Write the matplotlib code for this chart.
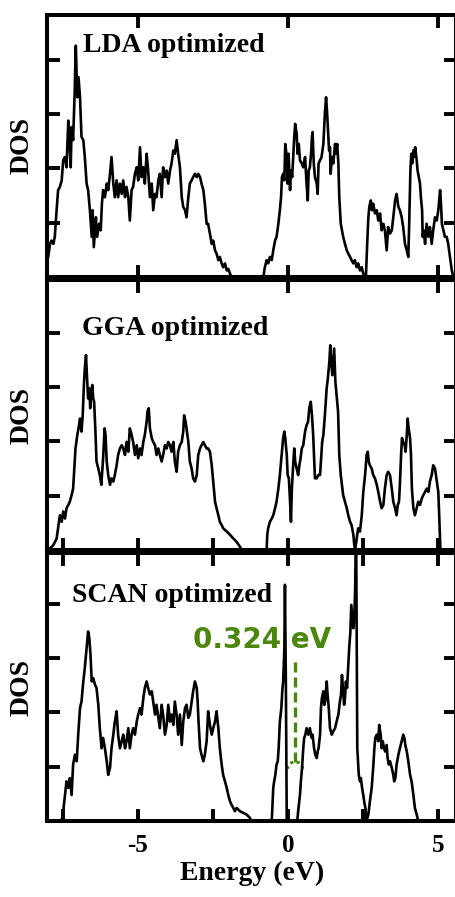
import numpy as np
import matplotlib
matplotlib.use('Agg')
import matplotlib.pyplot as plt
from matplotlib.patches import Arc

# DOS, (energy eV, DOS in tick units)
lda_pts = [
    (-8.03, 0.30), (-7.99, 0.37), (-7.93, 0.61), (-7.88, 0.67), (-7.82, 0.61), (-7.77, 0.74),
    (-7.71, 1.23), (-7.66, 1.60), (-7.60, 1.66), (-7.54, 1.78), (-7.49, 2.15), (-7.43, 2.21),
    (-7.38, 2.02), (-7.32, 2.88), (-7.29, 2.58), (-7.24, 2.02), (-7.21, 2.76), (-7.16, 2.52),
    (-7.11, 3.37), (-7.07, 4.26), (-7.02, 3.31), (-6.98, 3.68), (-6.93, 3.31), (-6.88, 2.58),
    (-6.82, 2.52), (-6.77, 2.21), (-6.71, 1.72), (-6.66, 1.60), (-6.60, 1.23), (-6.54, 0.74),
    (-6.51, 1.23), (-6.47, 0.55), (-6.40, 1.10), (-6.36, 0.74), (-6.29, 0.98), (-6.24, 0.86),
    (-6.20, 1.35), (-6.16, 1.60), (-6.10, 1.47), (-6.04, 1.72), (-5.99, 1.60), (-5.93, 1.90),
    (-5.88, 2.21), (-5.82, 1.72), (-5.77, 1.47), (-5.71, 1.78), (-5.66, 1.47), (-5.60, 1.72),
    (-5.54, 1.53), (-5.49, 1.78), (-5.43, 1.47), (-5.38, 1.66), (-5.32, 1.47), (-5.27, 1.04),
    (-5.21, 1.60), (-5.16, 1.66), (-5.10, 1.90), (-5.04, 2.02), (-4.99, 1.78), (-4.93, 2.39),
    (-4.88, 1.84), (-4.82, 2.02), (-4.77, 1.72), (-4.71, 2.27), (-4.66, 1.96), (-4.60, 1.47),
    (-4.54, 1.72), (-4.49, 1.23), (-4.43, 1.53), (-4.38, 1.47), (-4.32, 1.78), (-4.27, 1.90),
    (-4.21, 1.47), (-4.16, 2.02), (-4.10, 1.84), (-4.04, 1.96), (-3.99, 1.72), (-3.93, 1.96),
    (-3.88, 2.09), (-3.82, 2.33), (-3.77, 2.27), (-3.71, 2.52), (-3.66, 2.27), (-3.60, 2.02),
    (-3.54, 1.47), (-3.49, 1.29), (-3.43, 1.23), (-3.38, 1.10), (-3.32, 1.47), (-3.27, 1.72),
    (-3.21, 1.78), (-3.16, 1.84), (-3.10, 1.90), (-3.04, 1.84), (-2.99, 1.90), (-2.93, 1.84),
    (-2.88, 1.72), (-2.82, 1.60), (-2.77, 1.35), (-2.71, 0.98), (-2.66, 0.98), (-2.60, 0.80),
    (-2.54, 0.61), (-2.49, 0.67), (-2.43, 0.49), (-2.38, 0.43), (-2.32, 0.31), (-2.27, 0.37),
    (-2.21, 0.25), (-2.16, 0.18), (-2.10, 0.25), (-2.04, 0.12), (-1.99, 0.15), (-1.93, 0.06),
    (-1.88, 0.00), (-0.82, 0.00), (-0.77, 0.18), (-0.71, 0.31), (-0.66, 0.25), (-0.60, 0.37),
    (-0.54, 0.31), (-0.49, 0.49), (-0.43, 0.67), (-0.38, 0.74), (-0.32, 0.98), (-0.27, 1.23),
    (-0.23, 1.47), (-0.20, 1.84), (-0.16, 1.90), (-0.12, 1.78), (-0.09, 2.45), (-0.04, 2.21),
    (-0.01, 1.72), (0.02, 2.27), (0.07, 1.60), (0.10, 1.96), (0.14, 1.84), (0.18, 2.27),
    (0.21, 2.58), (0.24, 2.82), (0.29, 2.64), (0.32, 2.27), (0.36, 2.45), (0.40, 2.15),
    (0.46, 2.09), (0.51, 2.02), (0.57, 2.21), (0.62, 1.72), (0.66, 1.41), (0.69, 1.96),
    (0.73, 2.02), (0.77, 2.27), (0.80, 2.58), (0.82, 2.67), (0.86, 2.09), (0.90, 1.84),
    (0.96, 1.72), (0.99, 1.53), (1.02, 2.09), (1.07, 2.15), (1.12, 2.21), (1.18, 2.45),
    (1.23, 3.01), (1.27, 3.31), (1.30, 3.07), (1.33, 2.76), (1.37, 2.33), (1.40, 2.39),
    (1.42, 1.90), (1.47, 2.21), (1.51, 2.09), (1.57, 2.45), (1.60, 2.27), (1.64, 2.45),
    (1.68, 2.09), (1.71, 1.47), (1.76, 0.98), (1.80, 0.86), (1.84, 0.74), (1.90, 0.61),
    (1.96, 0.49), (2.01, 0.43), (2.07, 0.37), (2.12, 0.31), (2.18, 0.25), (2.23, 0.31),
    (2.29, 0.18), (2.34, 0.25), (2.40, 0.12), (2.46, 0.18), (2.51, 0.06), (2.57, 0.00),
    (2.60, 0.03), (2.64, 0.61), (2.68, 1.10), (2.71, 1.29), (2.76, 1.41), (2.80, 1.23),
    (2.84, 1.35), (2.90, 1.17), (2.96, 1.23), (3.01, 1.04), (3.07, 1.17), (3.12, 0.86),
    (3.18, 0.98), (3.23, 0.86), (3.29, 0.49), (3.34, 0.92), (3.40, 0.80), (3.46, 0.86),
    (3.51, 1.10), (3.57, 1.41), (3.62, 1.53), (3.68, 1.29), (3.73, 1.23), (3.79, 1.10),
    (3.84, 0.92), (3.90, 0.61), (3.96, 0.49), (4.01, 0.37), (4.04, 0.98), (4.08, 1.96),
    (4.11, 2.27), (4.14, 2.09), (4.18, 2.33), (4.21, 2.21), (4.24, 2.39), (4.29, 2.15),
    (4.32, 1.96), (4.36, 1.84), (4.40, 1.72), (4.43, 1.47), (4.47, 1.23), (4.49, 0.74),
    (4.52, 0.86), (4.57, 0.61), (4.62, 0.98), (4.68, 0.74), (4.73, 0.92), (4.79, 0.61),
    (4.84, 0.86), (4.90, 1.10), (4.96, 1.04), (5.01, 1.23), (5.07, 1.60), (5.10, 1.35),
    (5.13, 0.98), (5.18, 0.86), (5.23, 0.74), (5.29, 0.74), (5.34, 0.61), (5.40, 0.37),
    (5.46, 0.12), (5.51, 0.00), (5.60, 0.00),
]

gga_pts = [
    (-8.03, 0.00), (-7.99, 0.00), (-7.82, 0.09), (-7.71, 0.21), (-7.66, 0.40), (-7.60, 0.64),
    (-7.54, 0.52), (-7.49, 0.71), (-7.43, 0.58), (-7.38, 0.77), (-7.32, 0.83), (-7.27, 0.89),
    (-7.21, 1.01), (-7.16, 1.13), (-7.12, 1.50), (-7.08, 1.87), (-7.02, 2.12), (-6.98, 2.24),
    (-6.93, 2.42), (-6.88, 2.18), (-6.84, 2.48), (-6.80, 3.04), (-6.77, 3.34), (-6.73, 3.59),
    (-6.70, 3.22), (-6.66, 2.79), (-6.62, 2.98), (-6.59, 2.61), (-6.56, 2.85), (-6.52, 3.04),
    (-6.49, 2.79), (-6.46, 2.73), (-6.42, 2.24), (-6.38, 1.63), (-6.32, 1.50), (-6.27, 1.38),
    (-6.22, 1.20), (-6.19, 1.44), (-6.16, 1.69), (-6.11, 2.24), (-6.08, 2.12), (-6.04, 1.63),
    (-5.99, 1.38), (-5.93, 1.20), (-5.88, 1.32), (-5.82, 1.26), (-5.77, 1.38), (-5.71, 1.56),
    (-5.66, 1.75), (-5.60, 1.87), (-5.54, 1.93), (-5.49, 1.87), (-5.43, 1.75), (-5.38, 1.99),
    (-5.32, 1.81), (-5.27, 2.24), (-5.21, 2.12), (-5.16, 1.99), (-5.10, 1.75), (-5.04, 1.93),
    (-4.99, 1.69), (-4.93, 1.87), (-4.88, 1.75), (-4.82, 1.99), (-4.77, 2.12), (-4.71, 2.36),
    (-4.68, 2.55), (-4.64, 2.61), (-4.60, 2.24), (-4.54, 2.06), (-4.49, 1.99), (-4.43, 1.93),
    (-4.38, 1.75), (-4.32, 1.87), (-4.27, 1.75), (-4.21, 1.63), (-4.16, 1.75), (-4.10, 1.93),
    (-4.04, 1.87), (-3.99, 1.99), (-3.93, 1.93), (-3.88, 1.81), (-3.82, 1.99), (-3.77, 1.63),
    (-3.71, 1.44), (-3.66, 1.81), (-3.60, 1.93), (-3.54, 1.99), (-3.49, 2.18), (-3.46, 2.48),
    (-3.41, 2.36), (-3.38, 2.24), (-3.32, 1.99), (-3.27, 1.63), (-3.21, 1.50), (-3.16, 1.32),
    (-3.10, 1.26), (-3.04, 1.38), (-2.99, 1.75), (-2.93, 1.87), (-2.88, 1.93), (-2.82, 1.99),
    (-2.77, 1.93), (-2.71, 1.87), (-2.66, 1.87), (-2.60, 1.81), (-2.54, 1.56), (-2.49, 1.26),
    (-2.43, 0.89), (-2.38, 0.77), (-2.32, 0.64), (-2.27, 0.52), (-2.21, 0.46), (-2.16, 0.40),
    (-2.04, 0.34), (-1.93, 0.28), (-1.82, 0.21), (-1.71, 0.15), (-1.60, 0.06), (-1.54, 0.00),
    (-0.71, 0.00), (-0.69, 0.28), (-0.66, 0.40), (-0.60, 0.52), (-0.54, 0.58), (-0.49, 0.64),
    (-0.43, 0.77), (-0.38, 0.89), (-0.32, 1.13), (-0.27, 1.38), (-0.23, 1.63), (-0.19, 1.87),
    (-0.16, 2.06), (-0.12, 2.18), (-0.09, 2.06), (-0.04, 1.75), (-0.01, 1.38), (0.03, 1.32),
    (0.07, 0.89), (0.10, 0.52), (0.13, 1.13), (0.18, 1.63), (0.21, 1.87), (0.24, 1.63),
    (0.29, 1.50), (0.34, 1.38), (0.38, 1.56), (0.42, 1.69), (0.46, 1.87), (0.51, 1.93),
    (0.57, 2.18), (0.62, 2.30), (0.67, 2.36), (0.71, 2.61), (0.76, 2.73), (0.80, 2.48),
    (0.84, 2.12), (0.90, 1.32), (0.96, 1.32), (1.01, 1.38), (1.07, 1.38), (1.10, 1.63),
    (1.14, 1.99), (1.18, 2.12), (1.23, 2.48), (1.29, 2.98), (1.33, 3.16), (1.38, 3.47),
    (1.41, 3.77), (1.44, 3.47), (1.48, 3.22), (1.51, 3.47), (1.54, 3.71), (1.58, 3.10),
    (1.62, 2.85), (1.67, 2.55), (1.71, 1.75), (1.76, 1.38), (1.80, 1.20), (1.84, 1.01),
    (1.90, 0.89), (1.96, 0.77), (2.01, 0.64), (2.07, 0.52), (2.12, 0.46), (2.18, 0.28),
    (2.21, 0.09), (2.24, 0.00), (2.29, 0.21), (2.34, 0.40), (2.40, 0.34), (2.46, 0.64),
    (2.51, 1.07), (2.57, 1.38), (2.62, 1.75), (2.66, 1.81), (2.69, 1.63), (2.73, 1.56),
    (2.79, 1.50), (2.84, 1.38), (2.90, 1.32), (2.96, 1.20), (3.01, 1.07), (3.07, 0.89),
    (3.12, 0.77), (3.18, 0.83), (3.23, 1.13), (3.29, 1.38), (3.34, 1.44), (3.40, 1.38),
    (3.46, 1.13), (3.51, 0.89), (3.57, 0.77), (3.62, 0.64), (3.66, 0.83), (3.70, 0.89),
    (3.73, 1.20), (3.77, 1.75), (3.80, 2.06), (3.84, 1.99), (3.89, 1.93), (3.92, 1.81),
    (3.96, 2.12), (3.99, 2.42), (4.02, 2.24), (4.07, 2.06), (4.10, 1.75), (4.13, 1.13),
    (4.18, 0.77), (4.23, 0.64), (4.29, 0.77), (4.34, 0.89), (4.40, 0.83), (4.46, 0.95),
    (4.51, 1.01), (4.57, 1.07), (4.62, 1.13), (4.68, 1.07), (4.73, 1.26), (4.79, 1.38),
    (4.84, 1.56), (4.90, 1.50), (4.96, 1.26), (5.01, 1.07), (5.04, 0.64), (5.08, 0.00),
    (5.60, 0.00),
]

scan_pts = [
    (-8.03, 0.00), (-7.58, 0.00), (-7.54, 0.02), (-7.49, 0.18), (-7.43, 0.48), (-7.38, 0.73),
    (-7.32, 0.61), (-7.27, 0.79), (-7.21, 0.48), (-7.16, 1.04), (-7.10, 1.22), (-7.04, 1.10),
    (-6.99, 1.59), (-6.93, 2.08), (-6.88, 2.20), (-6.82, 2.57), (-6.77, 2.82), (-6.71, 3.18),
    (-6.66, 3.49), (-6.62, 3.37), (-6.58, 3.06), (-6.54, 2.57), (-6.49, 2.63), (-6.43, 2.51),
    (-6.38, 2.45), (-6.32, 2.14), (-6.27, 1.71), (-6.21, 1.34), (-6.16, 1.53), (-6.10, 1.34),
    (-6.04, 1.10), (-5.99, 0.85), (-5.93, 0.98), (-5.88, 1.34), (-5.82, 1.59), (-5.77, 1.83),
    (-5.71, 2.02), (-5.66, 1.59), (-5.60, 1.34), (-5.54, 1.47), (-5.49, 1.59), (-5.43, 1.34),
    (-5.38, 1.47), (-5.32, 1.71), (-5.27, 1.34), (-5.21, 1.59), (-5.16, 1.71), (-5.10, 1.59),
    (-5.04, 1.83), (-4.99, 1.96), (-4.93, 2.08), (-4.88, 1.96), (-4.82, 2.26), (-4.77, 2.45),
    (-4.71, 2.57), (-4.66, 2.45), (-4.60, 2.33), (-4.54, 2.39), (-4.49, 2.20), (-4.43, 1.96),
    (-4.38, 2.14), (-4.32, 1.90), (-4.27, 1.71), (-4.21, 2.14), (-4.16, 1.96), (-4.10, 1.59),
    (-4.04, 1.77), (-3.99, 2.14), (-3.93, 1.83), (-3.88, 1.96), (-3.82, 1.77), (-3.77, 2.20),
    (-3.71, 1.96), (-3.66, 1.59), (-3.60, 1.96), (-3.54, 1.40), (-3.49, 1.83), (-3.43, 2.08),
    (-3.38, 2.14), (-3.32, 1.90), (-3.27, 1.96), (-3.21, 2.20), (-3.16, 2.39), (-3.10, 2.57),
    (-3.04, 2.45), (-3.01, 2.20), (-2.98, 1.83), (-2.93, 1.34), (-2.88, 1.22), (-2.82, 1.10),
    (-2.77, 1.22), (-2.71, 1.47), (-2.66, 2.02), (-2.60, 1.77), (-2.54, 1.59), (-2.49, 1.71),
    (-2.43, 1.83), (-2.38, 2.02), (-2.32, 1.71), (-2.27, 1.34), (-2.21, 1.04), (-2.16, 0.85),
    (-2.10, 0.73), (-2.04, 0.61), (-1.99, 0.48), (-1.93, 0.36), (-1.88, 0.30), (-1.82, 0.24),
    (-1.77, 0.18), (-1.71, 0.24), (-1.60, 0.18), (-1.49, 0.15), (-1.38, 0.12), (-1.27, 0.06),
    (-1.22, 0.00), (-0.54, 0.00), (-0.51, 0.36), (-0.49, 0.61), (-0.46, 0.73), (-0.42, 0.85),
    (-0.38, 1.04), (-0.34, 1.10), (-0.31, 1.34), (-0.27, 1.83), (-0.22, 2.08), (-0.19, 2.39),
    (-0.16, 2.57), (-0.12, 3.18), (-0.10, 4.35), (-0.07, 2.57), (-0.04, 0.00), (0.31, 0.00),
    (0.34, 0.18), (0.40, 0.48), (0.43, 0.73), (0.47, 0.98), (0.51, 1.34), (0.54, 1.53),
    (0.58, 1.59), (0.62, 1.71), (0.68, 1.59), (0.73, 1.71), (0.79, 1.53), (0.82, 1.59),
    (0.87, 1.34), (0.91, 1.22), (0.96, 1.16), (0.99, 1.28), (1.02, 1.34), (1.07, 1.59),
    (1.10, 2.08), (1.13, 2.26), (1.18, 2.39), (1.21, 2.14), (1.24, 2.20), (1.29, 2.57),
    (1.32, 2.33), (1.36, 2.08), (1.40, 1.71), (1.46, 1.59), (1.51, 1.65), (1.57, 1.71),
    (1.62, 1.83), (1.68, 1.96), (1.73, 2.20), (1.77, 2.33), (1.80, 2.69), (1.83, 2.45),
    (1.87, 2.14), (1.90, 2.26), (1.93, 2.57), (1.97, 2.45), (2.01, 2.88), (2.04, 3.18),
    (2.08, 3.49), (2.11, 3.98), (2.14, 3.80), (2.18, 3.55), (2.21, 3.74), (2.24, 4.29),
    (2.27, 5.60), (2.31, 1.34), (2.36, 0.85), (2.40, 0.73), (2.43, 0.79), (2.47, 0.61),
    (2.51, 0.48), (2.54, 0.36), (2.58, 0.24), (2.62, 0.00), (2.68, 0.12), (2.73, 0.36),
    (2.79, 0.61), (2.84, 0.98), (2.88, 1.34), (2.91, 1.53), (2.96, 1.59), (3.01, 1.47),
    (3.04, 1.77), (3.09, 1.59), (3.12, 1.34), (3.16, 1.47), (3.20, 1.34), (3.24, 1.28),
    (3.29, 1.40), (3.32, 1.16), (3.36, 1.04), (3.40, 1.10), (3.46, 0.98), (3.51, 0.85),
    (3.54, 0.73), (3.58, 0.79), (3.62, 1.04), (3.68, 1.22), (3.73, 1.34), (3.79, 1.47),
    (3.84, 1.59), (3.88, 1.53), (3.91, 1.40), (3.96, 1.28), (4.01, 1.10), (4.07, 0.85),
    (4.12, 0.73), (4.18, 0.48), (4.23, 0.24), (4.29, 0.12), (4.34, 0.00), (5.60, 0.00),
]

panel_titles = ['LDA optimized', 'GGA optimized', 'SCAN optimized']
title_pos = [(0.088, 0.859), (0.086, 0.796), (0.061, 0.817)]
gap_label = '0.324 eV'
green = '#4a870c'

plt.rcParams['font.family'] = ['Liberation Serif', 'DejaVu Serif']
plt.rcParams['font.weight'] = 'bold'

W, H = 455, 897
fig = plt.figure(figsize=(W / 100, H / 100), dpi=100)

# panel boxes in pixels: left, top, right, bottom
boxes = [(47, 15, 456, 277), (47, 280, 456, 550), (47, 553, 456, 821)]
unit_px = 54.3

axes = []
for i, (pts, box) in enumerate(zip([lda_pts, gga_pts, scan_pts], boxes)):
    l, t, r, b = box
    ax = fig.add_axes([l / W, 1 - b / H, (r - l) / W, (b - t) / H])
    e, d = np.array(pts).T
    ax.plot(e, d, color='black', lw=1.9)
    ax.set_xlim(-8.03, 5.6)
    ax.set_ylim(0, (b - t) / unit_px)
    ax.set_xticks([-5, 0, 5])
    ax.set_xticks([-7.5, -2.5, 2.5], minor=True)
    ax.set_yticks([1, 2, 3, 4])
    ax.tick_params(which='both', direction='in', length=9, width=2.8,
                   top=True, right=True, labelleft=False, labelbottom=False)
    for s in ax.spines.values():
        s.set_linewidth(2.9)
    ax.text(title_pos[i][0], title_pos[i][1], panel_titles[i], transform=ax.transAxes,
            fontsize=20, fontweight='bold', va='baseline', ha='left')
    fig.text(22 / W, 1 - (t + b) / 2 / H, 'DOS', rotation=90, fontsize=20,
             fontweight='bold', ha='center', va='center')
    axes.append(ax)

axes[0].tick_params(which='minor', top=False, bottom=False)
axes[1].tick_params(which='minor', top=False, bottom=True)
axes[2].tick_params(which='minor', top=True, bottom=True)

ax = axes[2]
ax.tick_params(which='major', labelbottom=True, pad=9, labelsize=18)
ax.set_xticklabels(['-5', '0', '5'], fontweight='bold')
fig.text(252 / W, 1 - 880 / H, 'Energy (eV)', fontsize=20, fontweight='bold',
         ha='center', va='baseline')

# band gap marker
ax.text(-3.17, 3.19, gap_label, color=green, fontsize=20, fontweight='bold',
        family='DejaVu Sans', ha='left', va='baseline')
ax.plot([0.24, 0.24], [1.09, 2.93], color=green, lw=2.4, ls=(0, (3, 1.5)))
ax.add_patch(Arc((0.24, 0.96), 0.5, 0.26, theta1=0, theta2=180, color=green,
                 lw=2.2, ls=(0, (1, 1.2))))

fig.savefig('out.png', dpi=100)
